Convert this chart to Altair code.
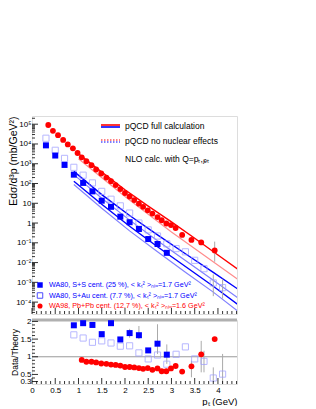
import altair as alt
import pandas as pd

# ---------------- data ----------------
# WA98 Pb+Pb (red circles)
red_x = [0.35, 0.45, 0.56, 0.67, 0.77, 0.88, 0.98, 1.07, 1.17, 1.28, 1.38, 1.49, 1.60, 1.70, 1.80, 1.90,
         2.00, 2.10, 2.20, 2.30, 2.39, 2.49, 2.59, 2.70, 2.79, 2.89, 2.99, 3.09, 3.23, 3.43, 3.64, 3.93]
red_y = [9.1e4, 4.6e4, 2.8e4, 1.6e4, 9.5e3, 6.0e3, 3.5e3, 2.1e3, 1.35e3, 850, 510, 320, 200, 130, 83, 52,
         33, 22, 14.5, 9.5, 6.6, 4.4, 3.0, 2.0, 1.38, 0.95, 0.79, 0.56, 0.25, 0.14, 0.105, 0.041]
red_ratio_x = [1.07, 1.17, 1.28, 1.38, 1.49, 1.60, 1.70, 1.80, 1.90, 2.00, 2.10, 2.20, 2.30, 2.39, 2.49,
               2.59, 2.70, 2.79, 2.89, 2.99, 3.09, 3.23, 3.43, 3.64, 3.93]
red_ratio = [0.91, 0.86, 0.86, 0.84, 0.81, 0.80, 0.78, 0.77, 0.75, 0.71, 0.71, 0.70, 0.68, 0.66, 0.68,
             0.63, 0.67, 0.59, 0.59, 0.67, 0.74, 0.58, 0.73, 1.07, 1.50]

# WA80 S+S (filled blue squares)
ss_x = [0.3, 0.5, 0.7, 0.9, 1.1, 1.3, 1.5, 1.7, 1.9, 2.1, 2.3, 2.5, 2.7, 2.9]
ss_y = [8500, 2600, 870, 280, 107, 40, 13.5, 6.6, 2.1, 1.1, 0.5, 0.155, 0.087, 0.031]
ss_ratio_x = [0.9, 1.1, 1.3, 1.5, 1.7, 1.9, 2.1, 2.3, 2.5, 2.7, 2.9]
ss_ratio = [1.89, 1.95, 1.90, 1.64, 1.95, 1.49, 1.67, 1.61, 1.18, 1.37, 1.06]

# WA80 S+Au (open light-blue squares)
sau_x = [0.3, 0.5, 0.7, 0.9, 1.1, 1.3, 1.5, 1.7, 1.9, 2.1, 2.3, 2.5, 2.7, 2.9, 3.1, 3.3, 3.5, 3.7, 3.9, 4.1]
sau_y = [19500, 4800, 1860, 660, 263, 107, 40, 16, 7.4, 3.2, 1.0, 0.45, 0.22, 0.089, 0.051, 0.035,
         0.013, 0.0049, 9.3e-4, 5.4e-4]
sau_ratio_x = [0.9, 1.1, 1.3, 1.5, 1.7, 1.9, 2.1, 2.3, 2.5, 2.7, 2.9, 3.1, 3.3, 3.5, 3.7, 3.9, 4.1]
sau_ratio = [1.62, 1.53, 1.41, 1.45, 1.39, 1.30, 1.31, 1.11, 0.94, 1.05, 0.79, 1.07, 1.28, 0.94, 0.87, 0.40, 0.51]

# pQCD curves
th_red_x = [1.0, 1.5, 2.0, 2.5, 3.0, 3.5, 4.0, 4.45]
th_red_full = [3200, 380, 48, 7.2, 1.15, 0.17, 0.024, 0.0042]
th_red_x2 = [1.0, 2.0, 3.0, 4.45]
th_red_nonuc = [1800, 22, 0.35, 0.0013]
th_blue_x = [0.9, 1.5, 2.1, 2.7, 3.3, 3.9, 4.45]
th_sau_full = [410, 27.5, 2.4, 0.25, 0.028, 0.0032, 4.2e-4]
th_ss_full = [130, 8.9, 0.69, 0.063, 0.0063, 6.3e-4, 7.0e-5]
th_sau_nonuc = [280, 17.8, 1.4, 0.126, 0.0126, 0.00126, 1.5e-4]
th_ss_nonuc = [89, 5.6, 0.4, 0.035, 0.0032, 3.2e-4, 3.2e-5]

# error bars (x, low, high)
top_err_x = [3.93, 3.9, 4.1]
top_err_lo = [0.011, 2.0e-4, 1.5e-4]
top_err_hi = [0.115, 2.5e-3, 1.5e-3]
rat_err_x = [2.1, 2.3, 2.7, 2.9, 3.43, 3.64, 3.7, 3.9, 4.1]
rat_err_lo = [1.54, 1.50, 1.08, 0.80, 0.42, 0.56, 0.56, 0.28, 0.23]
rat_err_hi = [1.79, 1.87, 1.92, 1.35, 0.89, 1.45, 1.17, 0.70, 1.08]

# axis tick positions / labels
x_major = [0, 0.5, 1, 1.5, 2, 2.5, 3, 3.5, 4]
x_minor = [0.1, 0.2, 0.3, 0.4, 0.6, 0.7, 0.8, 0.9, 1.1, 1.2, 1.3, 1.4, 1.6, 1.7, 1.8, 1.9, 2.1, 2.2, 2.3,
           2.4, 2.6, 2.7, 2.8, 2.9, 3.1, 3.2, 3.3, 3.4, 3.6, 3.7, 3.8, 3.9, 4.1, 4.2, 4.3, 4.4]
y_major = [1e-4, 1e-3, 1e-2, 1e-1, 1, 10, 100, 1e3, 1e4, 1e5]
y_major_lab = ["10⁻⁴", "10⁻³", "10⁻²", "10⁻¹", "1", "10", "10²", "10³", "10⁴", "10⁵"]
y_minor = [k * 10.0 ** e for e in range(-5, 6) for k in range(2, 10)]
r_major = [0.3, 0.5, 1, 1.5, 2]
r_minor = [0.4, 0.6, 0.7, 0.8, 0.9, 1.1, 1.2, 1.3, 1.4, 1.6, 1.7, 1.8, 1.9]

# ---------------- styling ----------------
RED = "#ff0000"
BLUE = "#0000ff"
LBLUE = "#9a9aff"
PINK = "#ff8c8c"
LLINE = "#8080ff"
FONT = "Liberation Sans"
W = 205
H_TOP = 198
H_BOT = 64
XDOM = [0, 4.41]
YDOM = [2.5e-5, 2.6e5]
RDOM = [0.23, 2.04]

xscale = alt.Scale(domain=XDOM, nice=False, zero=False)
yscale = alt.Scale(type="log", domain=YDOM, nice=False)
rscale = alt.Scale(domain=RDOM, nice=False, zero=False)

ylab_expr = ("[" + ",".join(f"'{l}'" for l in y_major_lab) + "]"
             "[round(log(datum.value)/LN10)+4]")

x_axis_bot = alt.Axis(values=x_major, grid=False, title="pₜ (GeV)", titleAnchor="end",
                      titleAlign="right", titleFontSize=9.5, titleFont=FONT, titleFontWeight="normal",
                      titlePadding=2, labelExpr="format(datum.value, '~g')",
                      labelFlush=False, labelOverlap=False, labelFontSize=8, labelFont=FONT,
                      ticks=False, domain=False, labelPadding=2, labelColor="black", titleColor="black")
y_axis_top = alt.Axis(values=y_major, grid=False, title="Edσ/d³p (mb/GeV²)", titleAnchor="end",
                      titleFontSize=10.5, titleFont=FONT, titleFontWeight="normal", titlePadding=-3,
                      labelExpr=ylab_expr, labelOverlap=False, labelFontSize=8, labelFont=FONT,
                      labelPadding=1, ticks=False, domain=False, labelColor="black", titleColor="black")
y_axis_bot = alt.Axis(values=r_major, grid=False, title="Data/Theory",
                      titleFontSize=8.5, titleFont=FONT, titleFontWeight="normal", titlePadding=0,
                      labelExpr="format(datum.value, '~g')", labelOverlap=False, labelFontSize=8,
                      labelFont=FONT, labelPadding=1, ticks=False, domain=False, labelFlush=False,
                      labelColor="black", titleColor="black")

X_T = alt.X("x:Q", scale=xscale, axis=None)
Y_T = alt.Y("y:Q", scale=yscale, axis=y_axis_top)
X_B = alt.X("x:Q", scale=xscale, axis=x_axis_bot)
Y_B = alt.Y("y:Q", scale=rscale, axis=y_axis_bot)


def df(xs, ys):
    return pd.DataFrame({"x": xs, "y": ys})


# ---------------- top panel ----------------
def curve(xs, ys, color, width):
    return alt.Chart(df(xs, ys)).mark_line(color=color, strokeWidth=width, clip=True).encode(x=X_T, y=Y_T)


lines = [
    curve(th_red_x2, th_red_nonuc, PINK, 1.2),
    curve(th_blue_x, th_sau_nonuc, LLINE, 1.2),
    curve(th_blue_x, th_ss_nonuc, LLINE, 1.2),
    curve(th_blue_x, th_sau_full, BLUE, 1.4),
    curve(th_blue_x, th_ss_full, BLUE, 1.4),
    curve(th_red_x, th_red_full, RED, 1.4),
]

err_top = alt.Chart(pd.DataFrame({"x": top_err_x, "y": top_err_lo, "hi": top_err_hi})).mark_rule(
    color="#aaaaaa", strokeWidth=1, clip=True).encode(x=X_T, y=Y_T, y2="hi:Q")

pts_sau = alt.Chart(df(sau_x, sau_y)).mark_point(
    shape="square", filled=False, color=LBLUE, size=38, strokeWidth=1, clip=True).encode(x=X_T, y=Y_T)
pts_ss = alt.Chart(df(ss_x, ss_y)).mark_square(color=BLUE, size=36, opacity=1, clip=True).encode(x=X_T, y=Y_T)
pts_red = alt.Chart(df(red_x, red_y)).mark_circle(color=RED, size=34, opacity=1, clip=True).encode(x=X_T, y=Y_T)


# inward ticks (ROOT style)
def yticks_top(vals, length):
    return alt.Chart(pd.DataFrame({"y": [v for v in vals if YDOM[0] <= v <= YDOM[1]]})).mark_rule(
        color="black", strokeWidth=0.8).encode(x=alt.value(0), x2=alt.value(length), y=Y_T)


def xticks(vals, length, h, xenc):
    return alt.Chart(pd.DataFrame({"x": vals})).mark_rule(color="black", strokeWidth=0.8).encode(
        x=xenc, y=alt.value(h), y2=alt.value(h - length))


tick_layers_top = [yticks_top(y_major, 6), yticks_top(y_minor, 3),
                   xticks(x_major, 6, H_TOP, X_T), xticks(x_minor, 3, H_TOP, X_T)]


# legend (pixel positions inside the panel)
def hline(x1, x2, y, color, width, dash=None):
    kw = dict(color=color, strokeWidth=width)
    if dash:
        kw["strokeDash"] = dash
    return alt.Chart(df([0], [0])).mark_rule(**kw).encode(x=alt.value(x1), x2=alt.value(x2), y=alt.value(y))


def label(t, x, y, color, size):
    return alt.Chart(df([0], [0])).mark_text(text=t, align="left", baseline="middle", fontSize=size,
                                             font=FONT, color=color).encode(x=alt.value(x), y=alt.value(y))


legend = [
    hline(69, 88, 9, RED, 1.6), hline(69, 88, 11, BLUE, 1.6),
    hline(69, 88, 24, RED, 1.2, [1.5, 1.5]), hline(69, 88, 26, BLUE, 1.2, [1.5, 1.5]),
    label("pQCD full calculation", 93, 10, "black", 8.5),
    label("pQCD no nuclear effects", 93, 25, "black", 8.5),
    label("NLO calc. with Q=pₜ,ⱼₑₜ", 93, 43, "black", 8.5),
    label("WA80, S+S cent. (25 %), < kₜ² >ₙₗₒ=1.7 GeV²", 17, 169, BLUE, 7.2),
    label("WA80, S+Au cent. (7.7 %), < kₜ² >ₙₗₒ=1.7 GeV²", 17, 179.5, BLUE, 7.2),
    label("WA98, Pb+Pb cent. (12.7 %), < kₜ² >ₙₗₒ=1.6 GeV²", 17, 190, RED, 7.2),
    alt.Chart(df([0], [0])).mark_square(color=BLUE, size=30, opacity=1).encode(
        x=alt.value(8), y=alt.value(169)),
    alt.Chart(df([0], [0])).mark_point(shape="square", filled=False, color=BLUE, size=30,
                                       strokeWidth=1).encode(x=alt.value(8), y=alt.value(179.5)),
    alt.Chart(df([0], [0])).mark_circle(color=RED, size=26, opacity=1).encode(
        x=alt.value(8), y=alt.value(190)),
]

top = alt.layer(*lines, err_top, pts_sau, pts_ss, pts_red, *tick_layers_top, *legend).properties(
    width=W, height=H_TOP)

# ---------------- ratio panel ----------------
one = alt.Chart(df([0], [1.0])).mark_rule(color="#999999", strokeWidth=1).encode(y=Y_B)
topband = alt.Chart(df([0], [RDOM[1]])).mark_rule(color="#b0b0b0", strokeWidth=3).encode(y=Y_B)
err_bot = alt.Chart(pd.DataFrame({"x": rat_err_x, "y": rat_err_lo, "hi": rat_err_hi})).mark_rule(
    color="#aaaaaa", strokeWidth=1, clip=True).encode(x=X_B, y=Y_B, y2="hi:Q")
r_sau = alt.Chart(df(sau_ratio_x, sau_ratio)).mark_point(
    shape="square", filled=False, color=LBLUE, size=38, strokeWidth=1, clip=True).encode(x=X_B, y=Y_B)
r_ss = alt.Chart(df(ss_ratio_x, ss_ratio)).mark_square(color=BLUE, size=36, opacity=1, clip=True).encode(
    x=X_B, y=Y_B)
r_red = alt.Chart(df(red_ratio_x, red_ratio)).mark_circle(color=RED, size=34, opacity=1, clip=True).encode(
    x=X_B, y=Y_B)

rt_major = alt.Chart(pd.DataFrame({"y": r_major})).mark_rule(color="black", strokeWidth=0.8).encode(
    x=alt.value(0), x2=alt.value(6), y=Y_B)
rt_minor = alt.Chart(pd.DataFrame({"y": r_minor})).mark_rule(color="black", strokeWidth=0.8).encode(
    x=alt.value(0), x2=alt.value(3), y=Y_B)

bottom = alt.layer(one, err_bot, topband, r_sau, r_ss, r_red, rt_major, rt_minor,
                   xticks(x_major, 6, H_BOT, X_B), xticks(x_minor, 3, H_BOT, X_B)).properties(
    width=W, height=H_BOT)

chart = alt.vconcat(top, bottom, spacing=1).properties(
    padding={"top": 107, "left": 0, "right": 0, "bottom": 0}
).configure_view(stroke="black", strokeWidth=1).configure(background="white")

chart.save("out.html", embed_options={"renderer": "svg", "actions": False})
